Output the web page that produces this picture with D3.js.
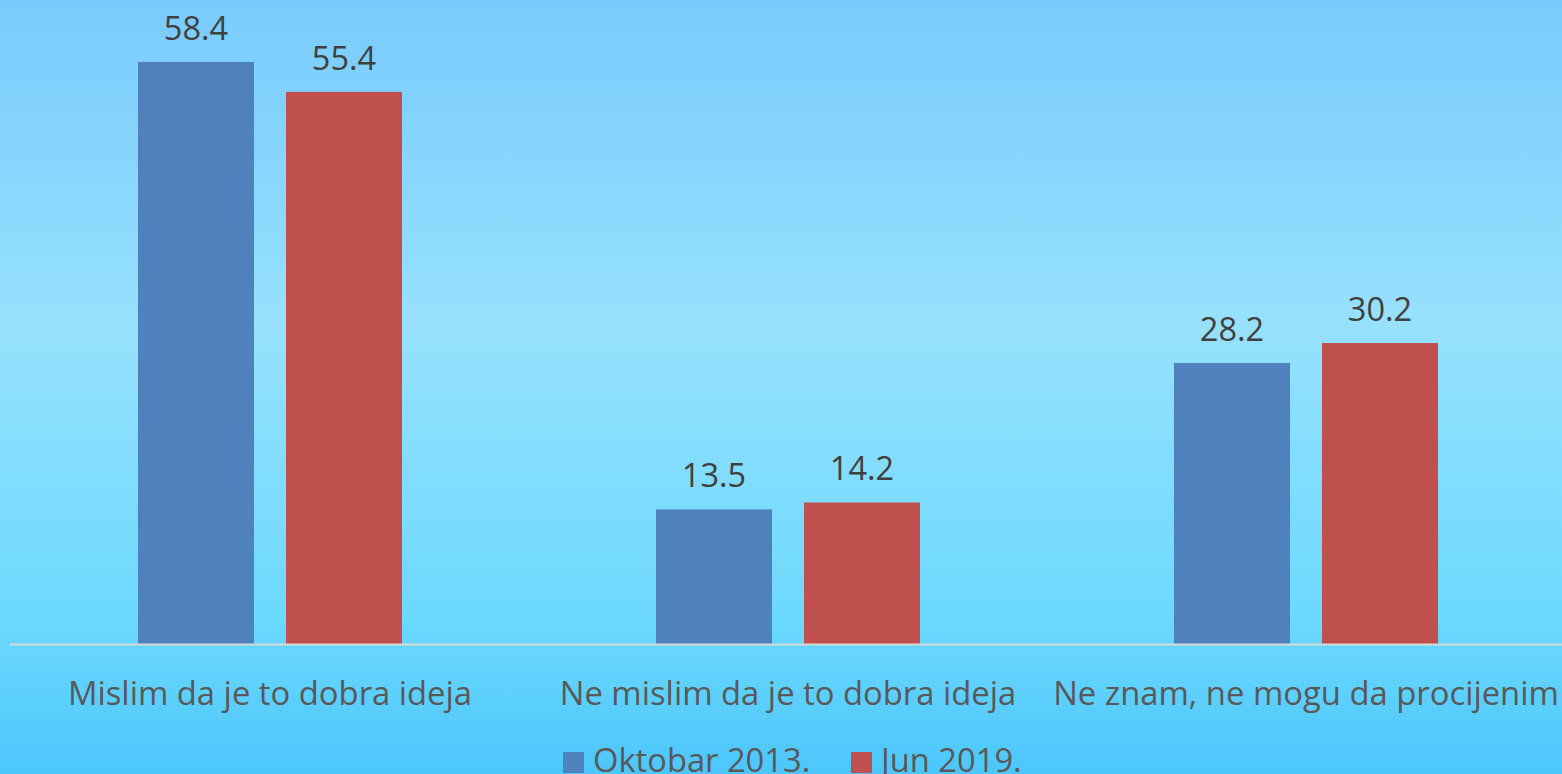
<!DOCTYPE html>
<html>
<head>
<meta charset="utf-8">
<script src="https://cdn.jsdelivr.net/npm/d3@7"></script>
<style>
  body { margin: 0; overflow: hidden; }
  text { font-family: "Open Sans", "Noto Sans", sans-serif; }
</style>
</head>
<body>
<div id="vis"></div>
<script>
// data
let categories = ["Mislim da je to dobra ideja", "Ne mislim da je to dobra ideja", "Ne znam, ne mogu da procijenim"];
let seriesNames = ["Oktobar 2013.", "Jun 2019."];
let oktobar2013 = [58.4, 13.5, 28.2];
let jun2019 = [55.4, 14.2, 30.2];
let colors = ["#4f81bd", "#c0504d"];

let W = 1562, H = 774;
let baseY = 644;

let svg = d3.select('#vis')
  .append('svg')
  .attr('width', W)
  .attr('height', H);

// background gradient
let grad = svg.append('defs').append('linearGradient')
  .attr('id', 'bg').attr('x1', 0).attr('y1', 0).attr('x2', 0).attr('y2', 1);
[[0, '#79cbfd'], [0.42, '#97e1fd'], [0.8, '#6cd9fe'], [1, '#4cc6fb']].forEach(s => {
  grad.append('stop').attr('offset', s[0]).attr('stop-color', s[1]);
});
svg.append('rect').attr('width', W).attr('height', H).attr('fill', 'url(#bg)');

let x0 = d3.scaleBand()
  .domain(categories)
  .range([11, 1565])
  .paddingInner(0)
  .paddingOuter(0);

// two bars of 116px with a 32px gap inside each 518px group
let x1 = d3.scaleBand()
  .domain(seriesNames)
  .range([127, 391])
  .paddingInner(32 / 148)
  .paddingOuter(0);

let y = d3.scaleLinear()
  .domain([0, 64.62])
  .range([baseY, 0]);

let rows = categories.map((c, i) => ({
  cat: c,
  vals: [
    { s: seriesNames[0], v: oktobar2013[i], c: colors[0] },
    { s: seriesNames[1], v: jun2019[i], c: colors[1] }
  ]
}));

let groups = svg.selectAll('g.grp')
  .data(rows)
  .join('g')
  .attr('class', 'grp')
  .attr('transform', d => 'translate(' + x0(d.cat) + ',0)');

groups.selectAll('rect')
  .data(d => d.vals)
  .join('rect')
  .attr('x', d => x1(d.s))
  .attr('y', d => y(d.v))
  .attr('width', x1.bandwidth())
  .attr('height', d => baseY - y(d.v))
  .attr('fill', d => d.c);

groups.selectAll('text.val')
  .data(d => d.vals)
  .join('text')
  .attr('class', 'val')
  .attr('x', d => x1(d.s) + x1.bandwidth() / 2)
  .attr('y', d => y(d.v) - 22)
  .attr('text-anchor', 'middle')
  .attr('font-size', 32.5)
  .attr('fill', '#404040')
  .text(d => d.v.toFixed(1));

// axis line
svg.append('line')
  .attr('x1', 10).attr('x2', W)
  .attr('y1', baseY + 0.5).attr('y2', baseY + 0.5)
  .attr('stroke', '#d9d9d9')
  .attr('stroke-width', 2);

// category labels
svg.selectAll('text.cat')
  .data(categories)
  .join('text')
  .attr('class', 'cat')
  .attr('x', d => x0(d) + x0.bandwidth() / 2)
  .attr('y', 705)
  .attr('text-anchor', 'middle')
  .attr('font-size', 32.8)
  .attr('fill', '#595959')
  .text(d => d);

// legend
let legendX = [563, 851];
let legend = svg.selectAll('g.leg')
  .data(seriesNames)
  .join('g')
  .attr('class', 'leg')
  .attr('transform', (d, i) => 'translate(' + legendX[i] + ',0)');

legend.append('rect')
  .attr('x', 0).attr('y', 752)
  .attr('width', 21).attr('height', 21)
  .attr('fill', (d, i) => colors[i]);

legend.append('text')
  .attr('x', 30).attr('y', 772)
  .attr('font-size', 32.7)
  .attr('fill', '#595959')
  .text(d => d);
</script>
</body>
</html>
